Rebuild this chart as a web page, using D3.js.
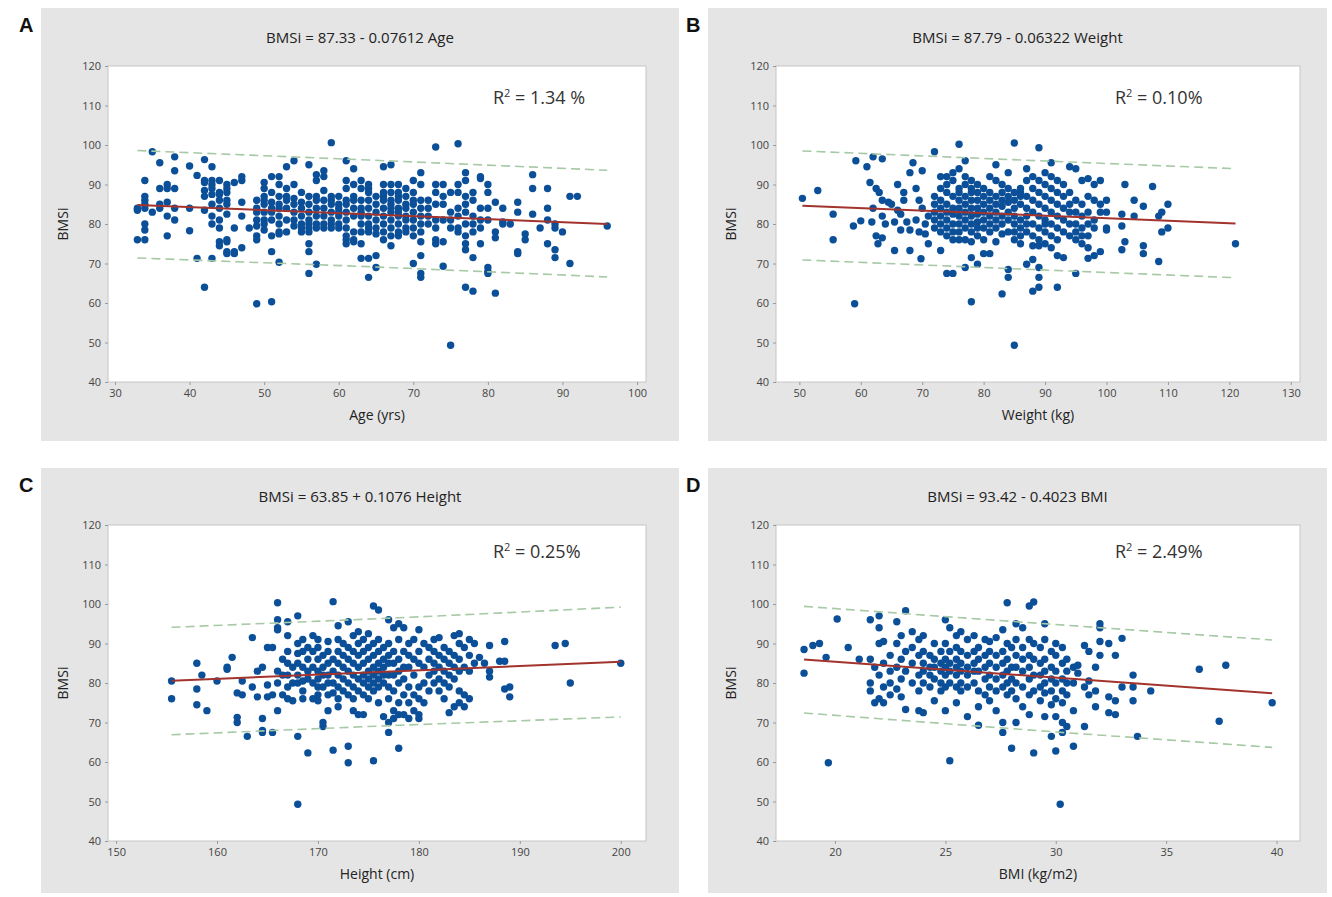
<!DOCTYPE html>
<html>
<head>
<meta charset="utf-8">
<script src="https://cdn.jsdelivr.net/npm/d3@7"></script>
<style>
  html, body { margin: 0; padding: 0; background: #fff; }
  svg { display: block; }
</style>
</head>
<body>
<svg id="chart" width="1332" height="897"></svg>
<script>
const PANEL_BG   = '#e5e5e5';
const DOT_COLOR  = '#0b4f98';
const FIT_COLOR  = '#a2332d';
const BAND_COLOR = '#a6c9a6';
const FONT       = "'Open Sans', 'Noto Sans', sans-serif";

const yTicks = [40, 50, 60, 70, 80, 90, 100, 110, 120];

// ── Panel A: BMSi vs age (grouped by whole year of age) ─────────────────────
const ageGroups = [
  [33, [76, 83.5, 84]],
  [34, [76, 78.5, 80, 84, 85, 86, 87, 91]],
  [35, [98.3, 83]],
  [36, [95.5, 89, 85, 84]],
  [37, [90, 82, 77, 85.5, 89]],
  [38, [97, 93.5, 89, 81, 84]],
  [40, [94.7, 84, 78.3]],
  [41, [92.3, 71.3]],
  [42, [96.3, 91, 90.5, 88.5, 87, 83.5, 64]],
  [43, [94.5, 91, 90, 89, 87.5, 85, 82, 80, 71.3]],
  [44, [91, 88, 87.5, 86, 84, 81, 79, 75.5, 74.5]],
  [45, [90, 89, 88, 86, 85, 82.5, 76, 75.5, 73, 72.5]],
  [46, [90.5, 79, 73, 72.5]],
  [47, [92, 91, 85.5, 82, 74]],
  [48, [79]],
  [49, [86, 84, 83, 81, 79.5, 77, 76, 59.8]],
  [50, [90.5, 89, 87, 86, 85, 83, 81, 80, 78.5]],
  [51, [92, 88, 85.5, 84, 83, 81, 77, 73, 60.3]],
  [52, [92, 90, 87, 85, 84, 82, 80, 78, 77.5, 70.3]],
  [53, [94.5, 89, 87, 86, 84, 81, 78]],
  [54, [96, 90, 86.5, 85, 83, 81, 79.5]],
  [55, [88, 85.5, 84, 82, 80, 79, 78]],
  [56, [95, 87, 85, 83, 81, 80, 79, 78, 75, 73, 67.5]],
  [57, [92.5, 91, 87, 86, 84, 82, 80, 79, 69.8]],
  [58, [93.5, 92, 88.5, 86, 84, 82, 80, 79]],
  [59, [100.6, 87, 86, 85, 83, 81, 80, 79]],
  [60, [87, 85, 84, 83, 82, 80, 79]],
  [61, [96, 91, 89, 86, 85, 83, 81, 79, 77, 76, 75]],
  [62, [94, 90, 87, 86, 84, 82, 78, 76, 75.5]],
  [63, [91, 89, 86, 84, 83, 82, 80, 78, 75, 71.3]],
  [64, [90, 89, 88, 86, 84, 82, 80, 79, 78, 71.3, 66.5]],
  [65, [87, 85, 83, 81, 79, 77.5, 72, 69]],
  [66, [94.5, 90, 88, 87, 86, 84, 82, 80, 78, 76]],
  [67, [95, 90, 88, 86, 85, 84, 83, 81, 79, 77, 74.5]],
  [68, [90, 88, 87, 86, 84, 83, 82, 80, 78, 77]],
  [69, [89, 87, 85, 84, 82, 81, 79, 78]],
  [70, [91, 88, 86, 85, 83, 81, 79, 77, 70]],
  [71, [93, 90, 86, 84, 82, 80, 78, 75.5, 72, 67.5, 66.5]],
  [72, [86, 84, 82, 80]],
  [73, [99.5, 90, 88, 85, 81, 79, 76, 75]],
  [74, [90, 87, 85, 81, 75.5, 69.3]],
  [75, [88, 83, 81, 79, 49.3]],
  [76, [100.3, 90, 88, 84, 82, 79, 78]],
  [77, [93, 91, 87, 85, 83, 80, 77, 75, 73.5, 64]],
  [78, [88, 86, 82, 80, 78, 71.5, 63]],
  [79, [92, 91.5, 84, 81, 79, 75]],
  [80, [90, 88, 84, 81, 69, 68, 67.5]],
  [81, [85.5, 78, 76.5, 62.5]],
  [82, [84, 80.5, 80]],
  [83, [80]],
  [84, [85.5, 83, 73, 72.5]],
  [85, [77.5, 76]],
  [86, [92.5, 89, 82.5]],
  [87, [79]],
  [88, [89, 84, 81, 75]],
  [89, [80, 79, 73.5, 71.5]],
  [90, [78]],
  [91, [87, 70]],
  [92, [87]],
  [96, [79.5]]
];
const ageFit   = [[33, 84.82], [96, 80.02]];
const ageUpper = [[33, 98.6], [64, 96.2], [96, 93.6]];
const ageLower = [[33, 71.4], [64, 69.2], [96, 66.6]];

// ── Panel B: BMSi vs weight ─────────────────────────────────────────────────
const weightGroups = [
  [50.5, [86.5]], [53, [88.5]], [55.5, [82.5, 76]], [58.8, [79.5]], [59, [59.8]],
  [59.2, [96]], [60, [80.8]], [61, [94.5]], [61.5, [90.5]], [61.8, [80.5]],
  [62, [97, 84]], [62.5, [89, 77]], [62.8, [75]], [63, [88]], [63.5, [96.5, 86, 82, 76.5]],
  [64, [80]], [64.5, [85.5]], [65, [85]], [65.5, [80.5, 73.3]], [66, [90, 83.5]],
  [66.5, [82.5, 78.5]], [67, [88, 86]], [67.5, [80.5]], [68, [93, 78.5, 73.3]],
  [68.5, [95.5]], [69, [89, 81]], [69.5, [86, 78]], [69.8, [71.2]], [70, [93.5, 84]],
  [70.5, [80, 77.5]], [71, [82, 75]],
  [72, [98.3, 87, 85, 83, 81, 79]],
  [73, [92, 89, 86, 84, 82, 80, 78, 73.3]],
  [74, [92, 90, 88, 85, 83, 81, 79, 77, 67.5]],
  [75, [93, 91, 87, 84, 82.5, 80, 78, 76, 67.5]],
  [76, [100.2, 94, 89, 88, 86, 84, 82, 80, 78, 76]],
  [77, [96, 92, 90, 87, 85, 83, 81, 79, 76, 69]],
  [78, [91, 89, 88, 86, 84, 82, 80, 78, 75.5, 71.5, 60.3]],
  [79, [90, 88, 86, 84, 82.5, 80.5, 79, 77, 69.8]],
  [80, [89, 87, 85, 83, 81, 79, 76, 72.5]],
  [81, [92, 88, 86, 84, 82, 80, 78, 72.5]],
  [82, [95, 91, 87, 85, 83, 81, 79, 75.5]],
  [83, [90, 88, 86, 84.5, 82, 80, 77.5, 62.3]],
  [84, [93, 89, 87, 85.5, 83, 81, 78, 68.5, 66.5]],
  [85, [100.5, 88, 86, 84, 82, 80, 78, 76, 49.3]],
  [86, [89, 88, 87, 85, 81, 79, 77, 75]],
  [87, [94, 91, 87, 84, 82, 80, 78, 69.8]],
  [88, [92, 89, 86, 83, 80, 77, 74.5, 71, 63]],
  [89, [99.3, 91, 88, 85, 82, 79, 76, 74.5, 69, 66.5, 64]],
  [90, [93, 90, 87, 84, 81, 80, 78, 75]],
  [91, [95.5, 92, 89, 86, 83, 80, 77, 74]],
  [92, [91, 88, 85, 82, 79, 76, 72, 64]],
  [93, [90, 87, 84, 81, 78, 71.5]],
  [94, [94.5, 88, 85, 83, 80, 77]],
  [95, [94, 86, 83, 80, 78, 76, 67.5]],
  [96, [91, 85, 82, 79, 77, 75]],
  [97, [91.5, 87, 83, 80, 77, 74, 71.3]],
  [98, [90, 86, 81, 79, 72]],
  [99, [91, 85, 83, 73]],
  [100, [86, 83, 79, 78.5]],
  [102.5, [82.5, 79.5, 73.5]], [103, [90, 75.5]], [104.5, [86, 82]],
  [106, [84.5, 74.5, 72.5]], [107.5, [89.5]], [108.5, [82, 70.5]],
  [109, [83, 78]], [110, [85, 79]], [121, [75]]
];
const weightFit   = [[50.5, 84.6], [121, 80.14]];
const weightUpper = [[50.5, 98.5], [86, 96.2], [121, 94.0]];
const weightLower = [[50.5, 70.9], [86, 68.6], [121, 66.4]];

// ── Panel C: BMSi vs height ─────────────────────────────────────────────────
const heightGroups = [
  [155.5, [76, 80.5]], [158, [85, 78.5, 74.5]], [158.5, [82]], [159, [73]],
  [160, [80.5]], [161, [83.5, 84]], [161.5, [86.5]], [162, [71.3, 70, 77.5]],
  [162.5, [77, 80.5]], [163, [66.5]], [163.5, [91.5, 79]], [164, [83, 76.5]],
  [164.5, [84, 71, 68, 67.5]], [165, [89, 79.5, 76.5]], [165.5, [89, 77, 67.5]],
  [166, [100.3, 96, 94, 93.5, 83, 80, 73]],
  [166.5, [86, 82, 77]],
  [167, [95.5, 92, 88, 85, 82, 79, 76]],
  [167.5, [84, 80, 75.5]],
  [168, [97, 90, 87.5, 85, 82, 80, 66.5, 49.3]],
  [168.5, [91, 88, 84, 80.5, 78, 76]],
  [169, [89, 86, 83, 81, 62.3]],
  [169.5, [92, 88, 84, 80, 76]],
  [170, [91, 89, 86, 83, 81, 79, 77, 75.5]],
  [170.5, [87, 84, 82, 79, 70, 69]],
  [171, [90.5, 88, 85, 82, 80, 77, 73]],
  [171.5, [100.6, 86, 83, 80, 77.5, 63]],
  [172, [94.5, 91, 88, 85, 82, 79, 76, 74]],
  [172.5, [90, 87, 84, 81, 78]],
  [173, [95.5, 89, 86, 83, 80, 77, 64, 59.8]],
  [173.5, [92, 88, 85, 82, 79, 76, 73]],
  [174, [93, 90, 87, 84, 81, 78, 72]],
  [174.5, [91, 88, 85, 82, 80, 77, 72]],
  [175, [92.5, 89, 86, 83, 81, 79, 76]],
  [175.5, [99.5, 90, 87, 84, 82, 80, 78, 60.3]],
  [176, [98.5, 91, 88, 85, 83, 81, 79, 75]],
  [176.5, [89, 86, 84, 82, 80, 71.5]],
  [177, [96, 90, 87, 85, 82, 79, 76, 70, 67.5]],
  [177.5, [94, 88, 85, 82, 78, 73, 71]],
  [178, [95, 91, 86, 83, 80, 75, 72, 63.5]],
  [178.5, [94, 88, 84, 81, 77, 72]],
  [179, [90, 87, 84, 79, 75, 71]],
  [179.5, [91, 86, 82, 77, 73]],
  [180, [93.5, 88, 85, 79, 76, 72, 71]],
  [180.5, [90, 84, 80, 75]],
  [181, [89, 86, 82, 78]],
  [181.5, [91, 88, 85, 83, 80]],
  [182, [91.5, 87, 84, 81, 78]],
  [182.5, [89, 86, 83, 80, 76]],
  [183, [88, 85, 82, 79, 72.5]],
  [183.5, [92, 87, 84, 81, 74]],
  [184, [92.5, 90, 86, 83, 78, 75]],
  [184.5, [89, 84, 77, 74]],
  [185, [91, 87, 83, 76]],
  [185.5, [90, 85]], [186, [86.5]], [186.5, [85]], [187, [89.5, 83, 81.5]],
  [188, [85.5]], [188.5, [90.5, 85.5, 78.5]], [189, [79, 76.5]],
  [193.5, [89.5]], [194.5, [90]], [195, [80]], [200, [85]]
];
const heightFit   = [[155.5, 80.58], [200, 85.37]];
const heightUpper = [[155.5, 94.1], [178, 96.5], [200, 99.2]];
const heightLower = [[155.5, 66.9], [178, 69.3], [200, 71.4]];

// ── Panel D: BMSi vs BMI ────────────────────────────────────────────────────
const bmiGroups = [
  [18.6, [88.5, 82.5]], [19, [89.5]], [19.3, [90]], [19.6, [86.5]], [19.7, [59.8]],
  [20.1, [96.2]], [20.6, [89]], [21.1, [86]],
  [21.6, [96, 86, 80, 78]], [21.8, [84, 75]], [22, [97, 94, 90, 82, 76]],
  [22.2, [90.5, 85, 79, 75]], [22.5, [87, 83, 80, 77]], [22.8, [95.5, 90, 84, 78.5]],
  [23, [92, 86, 81, 76.5]], [23.2, [98.3, 88, 83, 73.3]], [23.5, [93, 89, 85, 80]],
  [23.8, [91, 87, 82, 78, 73]], [24, [92, 88, 85, 83, 80, 72.5]],
  [24.3, [87, 84, 82, 79]], [24.5, [90, 86, 84, 81, 75.5]], [24.8, [88, 85, 83, 80, 78]],
  [25, [96, 90, 86, 84, 82, 79, 73]], [25.2, [94, 88, 85, 83, 80, 60.3]],
  [25.5, [92, 89, 86, 84, 82, 79, 75]], [25.7, [93, 88, 85, 83, 80, 78]],
  [26, [91, 87, 84, 82, 79, 71.5]], [26.3, [92, 88, 85, 83, 80]],
  [26.5, [89, 86, 83, 78, 74, 69.3]], [26.8, [91, 87, 84, 81, 77]],
  [27, [90.5, 88, 85, 82, 79, 75.5]], [27.3, [91.5, 87, 84, 81, 78, 73]],
  [27.6, [93.5, 88, 85, 82, 79, 70, 67.5]], [27.8, [100.3, 90, 86, 83, 80, 77]],
  [28, [89, 84, 81, 78, 63.5]], [28.2, [95, 91, 87, 84, 80, 76, 70]],
  [28.5, [94, 89, 86, 83, 79, 74]], [28.8, [99.5, 91, 87, 84, 81, 77, 72]],
  [29, [100.5, 90, 86, 82, 78, 62.3]], [29.3, [89, 85, 82, 79, 75.5]],
  [29.5, [95, 91, 86, 83, 80, 77.5, 71.5]], [29.8, [88, 84, 81, 78, 74.5, 66.5]],
  [30, [90, 87, 83, 80, 76, 71.5, 62.8]], [30.2, [49.3]],
  [30.3, [89, 85, 81, 78, 75, 70, 67.5]], [30.5, [86, 83, 80, 77, 69]],
  [30.8, [84, 80, 73, 64]], [31, [84.5, 82.5]], [31.3, [89.5, 79, 69]],
  [31.5, [88, 80.5, 77]], [31.8, [84, 78, 74]], [32, [95, 94, 90.5, 87]],
  [32.4, [90, 76.5, 72.5]], [32.7, [87, 75.5, 72]], [33, [91.3, 79]],
  [33.5, [82, 79, 75.5]], [33.7, [66.5]], [34.3, [78]], [36.5, [83.5]],
  [37.4, [70.3]], [37.7, [84.5]], [39.8, [75]]
];
const bmiFit   = [[18.6, 85.94], [39.8, 77.41]];
const bmiUpper = [[18.6, 99.4], [30, 94.8], [39.8, 90.9]];
const bmiLower = [[18.6, 72.4], [30, 67.6], [39.8, 63.7]];

const flatten = groups => groups.flatMap(([xv, ys]) => ys.map(yv => [xv, yv]));

const panels = [
  {
    letter: 'A', box: [41, 8, 638, 433], plot: [108, 66, 538, 316],
    xDomain: [29.06, 101.2], xTicks: [30, 40, 50, 60, 70, 80, 90, 100],
    title: 'BMSi = 87.33 - 0.07612 Age', xLabel: 'Age (yrs)',
    r2: '1.34 %', r2Pos: [385, 38],
    points: flatten(ageGroups), fit: ageFit, upper: ageUpper, lower: ageLower
  },
  {
    letter: 'B', box: [708, 8, 619, 433], plot: [776, 66, 524, 316],
    xDomain: [46.2, 131.5], xTicks: [50, 60, 70, 80, 90, 100, 110, 120, 130],
    title: 'BMSi = 87.79 - 0.06322 Weight', xLabel: 'Weight (kg)',
    r2: '0.10%', r2Pos: [339, 38],
    points: flatten(weightGroups), fit: weightFit, upper: weightUpper, lower: weightLower
  },
  {
    letter: 'C', box: [41, 468, 638, 425], plot: [108, 525, 538, 316],
    xDomain: [149.2, 202.5], xTicks: [150, 160, 170, 180, 190, 200],
    title: 'BMSi = 63.85 + 0.1076 Height', xLabel: 'Height (cm)',
    r2: '0.25%', r2Pos: [385, 33],
    points: flatten(heightGroups), fit: heightFit, upper: heightUpper, lower: heightLower
  },
  {
    letter: 'D', box: [708, 468, 619, 425], plot: [776, 525, 524, 316],
    xDomain: [17.33, 41.06], xTicks: [20, 25, 30, 35, 40],
    title: 'BMSi = 93.42 - 0.4023 BMI', xLabel: 'BMI (kg/m2)',
    r2: '2.49%', r2Pos: [339, 33],
    points: flatten(bmiGroups), fit: bmiFit, upper: bmiUpper, lower: bmiLower
  }
];

const svg = d3.select('#chart');

function drawPanel(p) {
  const g = svg.append('g');
  const [bx, by, bw, bh] = p.box;
  const [px, py, pw, ph] = p.plot;

  g.append('rect')
    .attr('x', bx).attr('y', by).attr('width', bw).attr('height', bh)
    .attr('fill', PANEL_BG);

  g.append('text')
    .attr('x', bx - 22).attr('y', by + 24)
    .attr('font-family', 'Liberation Sans, Arial, sans-serif')
    .attr('font-weight', 'bold').attr('font-size', 20)
    .attr('fill', '#111')
    .text(p.letter);

  const x = d3.scaleLinear().domain(p.xDomain).range([px, px + pw]);
  const y = d3.scaleLinear().domain([40, 120]).range([py + ph, py]);

  g.append('rect')
    .attr('x', px).attr('y', py).attr('width', pw).attr('height', ph)
    .attr('fill', '#fff').attr('stroke', '#c6c6c6').attr('stroke-width', 1);

  // Axes
  const xAxis = g.append('g')
    .attr('transform', `translate(0,${py + ph})`)
    .call(d3.axisBottom(x).tickValues(p.xTicks).tickSize(3).tickPadding(4));
  const yAxis = g.append('g')
    .attr('transform', `translate(${px},0)`)
    .call(d3.axisLeft(y).tickValues(yTicks).tickSize(3).tickPadding(4));

  [xAxis, yAxis].forEach(ax => {
    ax.select('.domain').remove();
    ax.selectAll('line').attr('stroke', '#9a9a9a');
    ax.selectAll('text')
      .attr('font-family', FONT).attr('font-size', 11)
      .attr('fill', '#444');
  });

  // Title and axis labels
  g.append('text')
    .attr('x', bx + bw / 2).attr('y', py - 23)
    .attr('text-anchor', 'middle')
    .attr('font-family', FONT).attr('font-size', 15).attr('fill', '#222')
    .text(p.title);

  g.append('text')
    .attr('x', px + pw / 2).attr('y', py + ph + 38)
    .attr('text-anchor', 'middle')
    .attr('font-family', FONT).attr('font-size', 14).attr('fill', '#222')
    .text(p.xLabel);

  g.append('text')
    .attr('transform', `translate(${px - 40},${py + ph / 2}) rotate(-90)`)
    .attr('text-anchor', 'middle')
    .attr('font-family', FONT).attr('font-size', 14).attr('fill', '#222')
    .text('BMSi');

  // Points
  g.append('g')
    .selectAll('circle')
    .data(p.points)
    .join('circle')
    .attr('cx', d => x(d[0]))
    .attr('cy', d => y(d[1]))
    .attr('r', 3.7)
    .attr('fill', DOT_COLOR);

  const line = d3.line().x(d => x(d[0])).y(d => y(d[1]));

  // Prediction bands
  [p.upper, p.lower].forEach(band => {
    g.append('path')
      .attr('d', line(band))
      .attr('fill', 'none')
      .attr('stroke', BAND_COLOR)
      .attr('stroke-width', 1.6)
      .attr('stroke-dasharray', '9,5');
  });

  // Fitted line
  g.append('path')
    .attr('d', line(p.fit))
    .attr('fill', 'none')
    .attr('stroke', FIT_COLOR)
    .attr('stroke-width', 2);

  // R-squared annotation
  const r2 = g.append('text')
    .attr('x', px + p.r2Pos[0]).attr('y', py + p.r2Pos[1])
    .attr('font-family', FONT).attr('font-size', 18).attr('fill', '#333');
  r2.append('tspan').text('R');
  r2.append('tspan').attr('font-size', 11).attr('dy', -7).text('2');
  r2.append('tspan').attr('dy', 7).text(' = ' + p.r2);
}

panels.forEach(drawPanel);
</script>
</body>
</html>
